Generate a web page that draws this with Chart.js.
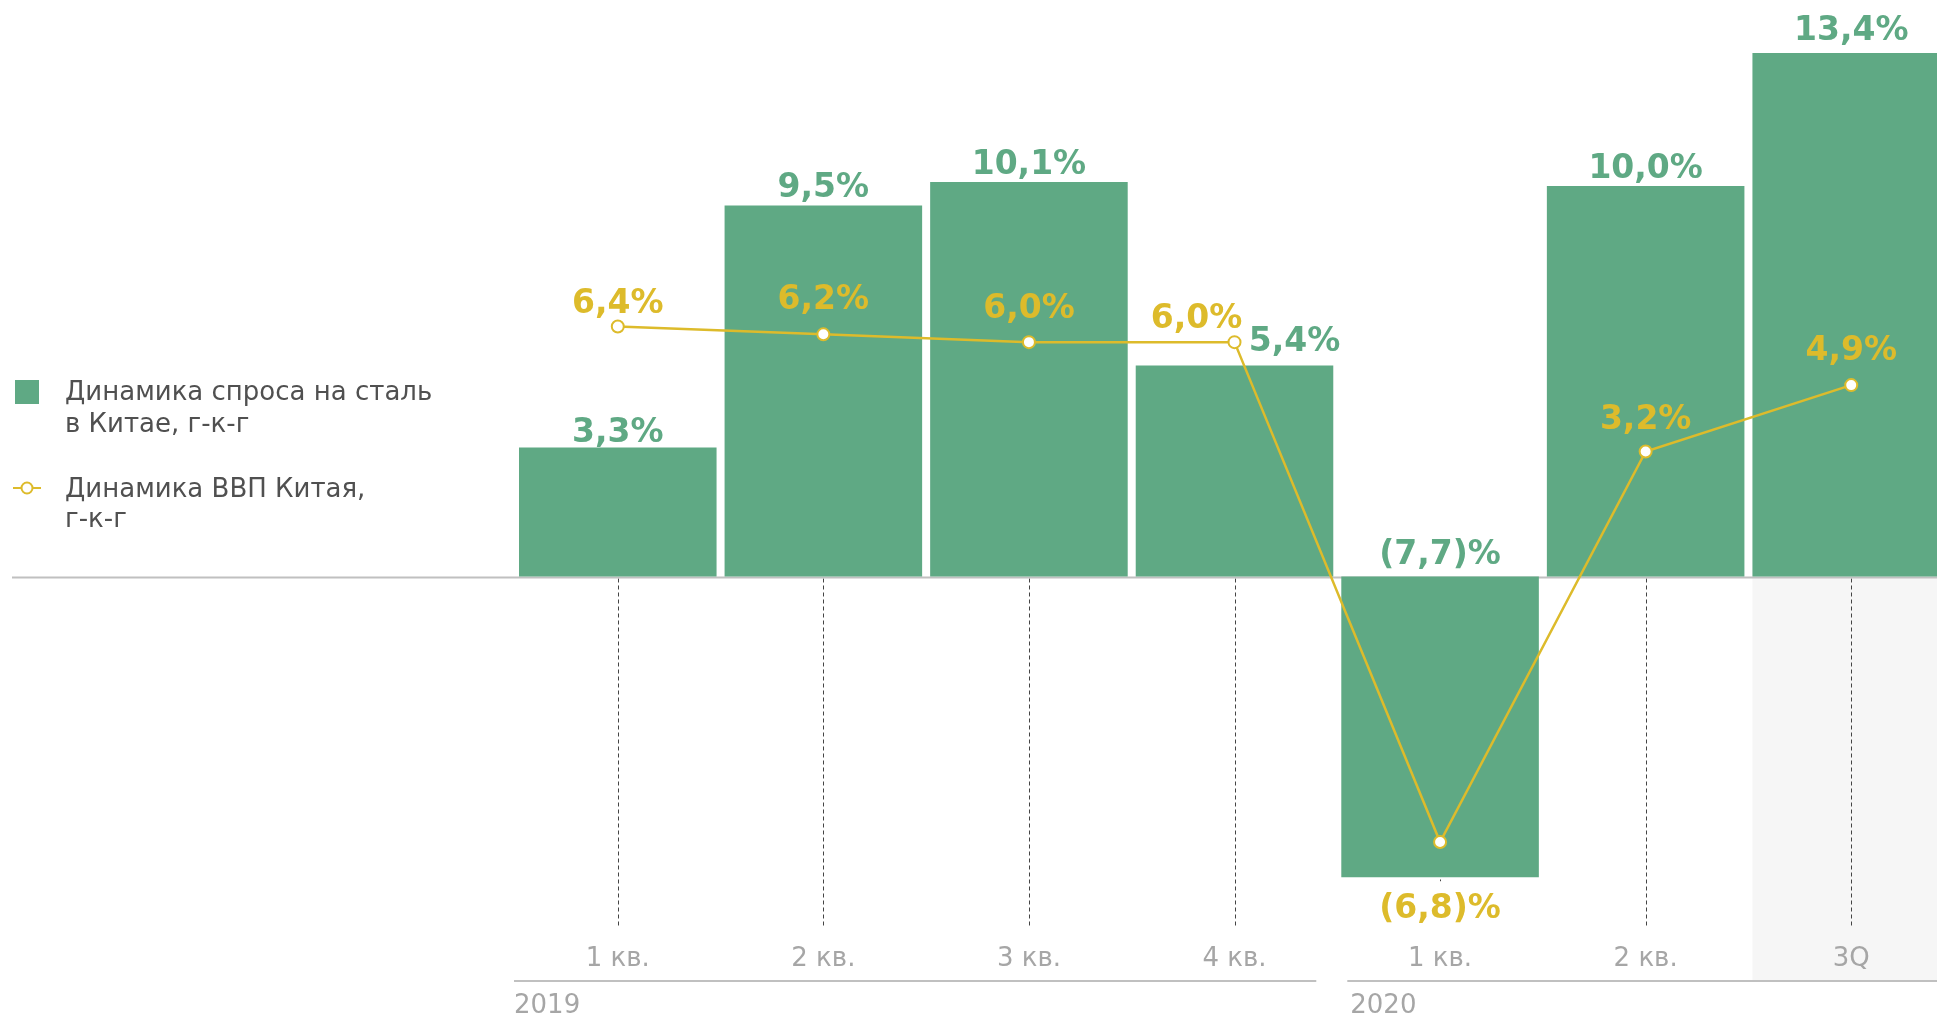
<!DOCTYPE html>
<html>
<head>
<meta charset="utf-8">
<script src="https://cdn.jsdelivr.net/npm/chart.js@4.4.1/dist/chart.umd.min.js"></script>
<style>
  html, body { margin: 0; padding: 0; background: #fff; overflow: hidden; }
  #chart { display: block; }
</style>
</head>
<body>
<canvas id="chart" width="1954" height="1017"></canvas>
<script>
// quarters on the x axis
const quarters = ['1 кв.', '2 кв.', '3 кв.', '4 кв.', '1 кв.', '2 кв.', '3Q'];
const years = ['2019', '2020'];
const yearFirstQuarter = [0, 4];

// series, % y-o-y
const steelDemand = [3.3, 9.5, 10.1, 5.4, -7.7, 10.0, 13.4];
const chinaGdp = [6.4, 6.2, 6.0, 6.0, -6.8, 3.2, 4.9];

const legendSteel = ['Динамика спроса на сталь', 'в Китае, г-к-г'];
const legendGdp = ['Динамика ВВП Китая,', 'г-к-г'];

// gap (px) between a mark and the baseline of its value label
const barLabelGap = [6, 8, 8, 15, 12, 8, 13];
const lineLabelGap = [14, 25, 24, 14, 41, 23, 25];

const GREEN = '#5fa984';
const YELLOW = '#ddbb2b';
const AXIS_GRAY = '#c0c0c0';
const TEXT_GRAY = '#a6a6a6';
const FONT = '"DejaVu Sans", Verdana, sans-serif';

function fmt(v) {
    const s = Math.abs(v).toFixed(1).replace('.', ',');
    return v < 0 ? '(' + s + ')%' : s + '%';
}

const decor = {
    id: 'decor',
    beforeDraw(chart) {
        // shaded last column, under the axis labels
        const { ctx, chartArea, scales: { y } } = chart;
        const zero = y.getPixelForValue(0);
        const axisY = chartArea.bottom + 53;
        const bars = chart.getDatasetMeta(1).data;
        const last = bars[bars.length - 1];
        ctx.save();
        ctx.fillStyle = '#f6f6f6';
        ctx.fillRect(last.x - last.width / 2, zero, chart.width, axisY - zero);
        ctx.restore();
    },
    beforeDatasetsDraw(chart) {
        const { ctx, chartArea, scales: { x, y } } = chart;
        const zero = y.getPixelForValue(0);
        ctx.save();

        // dashed drop lines below zero
        ctx.strokeStyle = '#444';
        ctx.lineWidth = 1;
        ctx.setLineDash([4, 3]);
        quarters.forEach((q, i) => {
            const px = Math.round(x.getPixelForValue(i)) + 0.5;
            ctx.beginPath();
            ctx.moveTo(px, zero + 2);
            ctx.lineTo(px, chartArea.bottom);
            ctx.stroke();
        });
        ctx.setLineDash([]);

        // zero line across the whole width
        ctx.strokeStyle = AXIS_GRAY;
        ctx.lineWidth = 2;
        ctx.beginPath();
        ctx.moveTo(12, zero + 1);
        ctx.lineTo(chart.width, zero + 1);
        ctx.stroke();
        ctx.restore();
    },
    afterDatasetsDraw(chart) {
        const { ctx, chartArea, scales: { y } } = chart;
        const zero = y.getPixelForValue(0);
        const bars = chart.getDatasetMeta(1).data;
        const pts = chart.getDatasetMeta(0).data;
        ctx.save();
        ctx.font = 'bold 33px ' + FONT;
        ctx.textAlign = 'center';
        ctx.textBaseline = 'alphabetic';

        // bar labels (negative bar: label sits above the zero line)
        ctx.fillStyle = GREEN;
        bars.forEach((b, i) => {
            const v = steelDemand[i];
            const lx = i === 3 ? b.x + 60 : b.x;
            const ly = (v < 0 ? zero : b.y) - barLabelGap[i];
            ctx.fillText(fmt(v), lx, ly);
        });

        // line labels (negative point: label goes under the bar, on a white patch)
        pts.forEach((p, i) => {
            const v = chinaGdp[i];
            const lx = i === 3 ? p.x - 38 : p.x;
            let ly;
            if (v < 0) {
                const bottom = Math.max(p.y, bars[i].y);
                ly = bottom + lineLabelGap[i];
                const w = ctx.measureText(fmt(v)).width + 10;
                ctx.fillStyle = '#fff';
                ctx.fillRect(lx - w / 2, bottom + 4, w, chartArea.bottom - bottom - 3);
            } else {
                ly = p.y - lineLabelGap[i];
            }
            ctx.fillStyle = YELLOW;
            ctx.fillText(fmt(v), lx, ly);
        });
        ctx.restore();
    },
    afterDraw(chart) {
        const { ctx, chartArea, scales: { x } } = chart;
        const axisY = chartArea.bottom + 53;
        const half = (chartArea.right - chartArea.left) / quarters.length / 2;
        ctx.save();

        // year axis lines and labels
        ctx.strokeStyle = AXIS_GRAY;
        ctx.lineWidth = 2;
        ctx.fillStyle = TEXT_GRAY;
        ctx.font = '26px ' + FONT;
        ctx.textAlign = 'left';
        ctx.textBaseline = 'alphabetic';
        years.forEach((yr, k) => {
            const first = yearFirstQuarter[k];
            const start = x.getPixelForValue(first) - half + (k === 0 ? -1 : 10);
            const end = k + 1 < years.length
                ? x.getPixelForValue(yearFirstQuarter[k + 1] - 1) + half - 21
                : chart.width;
            ctx.beginPath();
            ctx.moveTo(start, axisY);
            ctx.lineTo(end, axisY);
            ctx.stroke();
            ctx.fillText(yr, start + (k === 0 ? 0 : 3), axisY + 32);
        });

        // legend
        ctx.fillStyle = GREEN;
        ctx.fillRect(15, 380, 24, 24);
        ctx.strokeStyle = YELLOW;
        ctx.lineWidth = 2;
        ctx.beginPath();
        ctx.moveTo(13, 488);
        ctx.lineTo(41, 488);
        ctx.stroke();
        ctx.beginPath();
        ctx.arc(27, 488, 5.5, 0, Math.PI * 2);
        ctx.fillStyle = '#fff';
        ctx.fill();
        ctx.stroke();

        ctx.fillStyle = '#505050';
        ctx.font = '26px ' + FONT;
        ctx.fillText(legendSteel[0], 65, 400);
        ctx.fillText(legendSteel[1], 65, 432);
        ctx.fillText(legendGdp[0], 65, 497);
        ctx.fillText(legendGdp[1], 65, 527);
        ctx.restore();
    }
};

new Chart(document.getElementById('chart').getContext('2d'), {
    data: {
        labels: quarters,
        datasets: [
            {
                type: 'line',
                label: legendGdp.join(' '),
                data: chinaGdp,
                borderColor: YELLOW,
                borderWidth: 2.5,
                pointRadius: 6,
                pointBorderWidth: 2,
                pointBackgroundColor: '#fff',
                pointBorderColor: YELLOW,
                tension: 0,
                order: 1
            },
            {
                type: 'bar',
                label: legendSteel.join(' '),
                data: steelDemand,
                backgroundColor: GREEN,
                borderWidth: 0,
                barPercentage: 0.961,
                categoryPercentage: 1,
                order: 2
            }
        ]
    },
    options: {
        responsive: false,
        animation: false,
        layout: {
            autoPadding: false,
            padding: { left: 515, right: 0, top: 0, bottom: 44 }
        },
        plugins: {
            legend: { display: false },
            tooltip: { enabled: false }
        },
        scales: {
            x: {
                grid: { display: false, drawTicks: false },
                border: { display: false },
                ticks: {
                    color: TEXT_GRAY,
                    font: { family: FONT, size: 26 },
                    padding: 16,
                    maxRotation: 0,
                    autoSkip: false
                },
                afterFit(scale) { scale.height = 45; }
            },
            y: {
                display: false,
                min: -9,
                max: 14.76
            }
        }
    },
    plugins: [decor]
});
</script>
</body>
</html>
